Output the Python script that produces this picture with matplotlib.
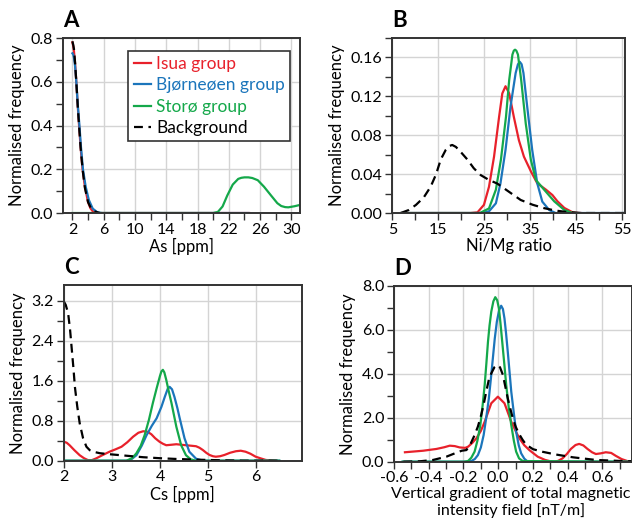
import matplotlib
matplotlib.use("Agg")
import matplotlib.pyplot as plt
from matplotlib.ticker import MultipleLocator

plt.rcParams['font.family'] = ['Lato', 'DejaVu Sans']
plt.rcParams['font.size'] = 11

RED = '#e8212b'
BLUE = '#1b75bb'
GREEN = '#14a84a'

series_names = ['Isua group', 'Bjørneøen group', 'Storø group', 'Background']

# ---- Panel A: As [ppm]
a_isua_x = [2, 2.1, 2.2, 2.35, 2.5, 2.7, 2.85, 3.05, 3.3, 3.6, 4.0, 4.3, 4.6, 5.0, 24.6]
a_isua_y = [0.78, 0.765, 0.74, 0.68, 0.6, 0.48, 0.4, 0.3, 0.2, 0.12, 0.05, 0.022, 0.008, 0.0, 0.0]
a_bjorn_x = [2, 2.1, 2.2, 2.35, 2.5, 2.7, 2.9, 3.1, 3.35, 3.7, 4.1, 4.6, 5.2, 5.8, 24.5]
a_bjorn_y = [0.73, 0.725, 0.71, 0.67, 0.6, 0.49, 0.4, 0.3, 0.2, 0.12, 0.06, 0.02, 0.003, 0.0, 0.0]
a_storo_x = [2, 20.0, 20.6, 21.2, 21.8, 22.5, 23.2, 23.6, 24.0, 24.5, 25.0, 25.7, 26.5, 27.4, 28.2, 28.7, 29.2, 29.6, 30.4, 31.1]
a_storo_y = [0, 0, 0.005, 0.03, 0.08, 0.13, 0.156, 0.161, 0.163, 0.163, 0.16, 0.15, 0.12, 0.08, 0.045, 0.032, 0.027, 0.026, 0.031, 0.037]
a_bg_x = [2, 2.1, 2.2, 2.35, 2.5, 2.7, 2.85, 3.05, 3.3, 3.6, 4.0, 4.4, 4.8, 5.5]
a_bg_y = [0.785, 0.77, 0.75, 0.685, 0.6, 0.48, 0.4, 0.3, 0.2, 0.115, 0.05, 0.02, 0.008, 0.0]

# ---- Panel B: Ni/Mg ratio
b_isua_x = [7, 22.0, 23.5, 24.9, 26.0, 27.1, 28.2, 28.9, 29.6, 30.4, 31.4, 32.5, 33.6, 35.1, 36.5,
            38.4, 39.8, 40.9, 42.4, 44.2, 45.5, 46]
b_isua_y = [0, 0, 0.0007, 0.0084, 0.027, 0.058, 0.099, 0.123, 0.1304, 0.123, 0.099, 0.075, 0.058, 0.043, 0.0306,
            0.024, 0.0185, 0.012, 0.0052, 0.0007, 0.0, 0.0]
b_bjorn_x = [7, 24.5, 26.0, 27.5, 28.5, 29.6, 30.7, 31.8, 32.3, 32.7, 33.1, 33.5, 34.3, 35.4, 36.5, 37.6, 39.1, 40.5, 56]
b_bjorn_y = [0, 0, 0.0017, 0.01, 0.0306, 0.065, 0.110, 0.144, 0.153, 0.1555, 0.153, 0.144, 0.110, 0.065, 0.0306,
             0.0117, 0.0031, 0.0, 0.0]
b_storo_x = [7, 24.0, 26.0, 27.5, 28.6, 29.7, 30.4, 31.1, 31.4, 31.67, 31.95, 32.3, 33.0, 34.0, 35.1, 36.2,
             38.0, 40.2, 42.4, 44.0, 45]
b_storo_y = [0, 0, 0.0047, 0.024, 0.055, 0.099, 0.137, 0.163, 0.167, 0.168, 0.167, 0.163, 0.137, 0.092, 0.055, 0.034,
             0.024, 0.012, 0.0031, 0.0003, 0.0]
b_bg_x = [6.8, 8.5, 10.1, 11.8, 13.3, 14.5, 15.5, 16.6, 17.4, 18.0, 18.8, 20.0, 21.3, 22.7, 24.2, 26.0, 27.8,
          30.3, 32.9, 35.5, 38.0, 40.5, 43.0, 46, 56]
b_bg_y = [0, 0.003, 0.0083, 0.016, 0.027, 0.04, 0.055, 0.065, 0.069, 0.070, 0.068, 0.062, 0.055, 0.046, 0.039, 0.034,
          0.0303, 0.022, 0.0134, 0.0085, 0.005, 0.0025, 0.001, 0.0, 0.0]

# ---- Panel C: Cs [ppm]
c_isua_x = [2.0, 2.06, 2.12, 2.22, 2.33, 2.42, 2.5, 2.58, 2.68, 2.8, 2.95, 3.08, 3.2, 3.32, 3.44, 3.55, 3.65,
            3.74, 3.82, 3.9, 3.99, 4.06, 4.13, 4.24, 4.34, 4.44, 4.54, 4.65, 4.75, 4.82, 4.89, 4.96, 5.03,
            5.1, 5.16, 5.25, 5.34, 5.46, 5.58, 5.68, 5.78, 5.88, 5.99, 6.1, 6.2, 6.4]
c_isua_y = [0.38, 0.36, 0.31, 0.21, 0.11, 0.05, 0.013, 0.01, 0.05, 0.11, 0.18, 0.23, 0.28, 0.37, 0.48, 0.56, 0.59,
            0.58, 0.53, 0.45, 0.38, 0.34, 0.31, 0.32, 0.33, 0.32, 0.31, 0.3, 0.29, 0.26, 0.215, 0.16, 0.115,
            0.09, 0.08, 0.09, 0.115, 0.16, 0.19, 0.2, 0.18, 0.14, 0.08, 0.045, 0.015, 0.0]
c_bjorn_x = [2.0, 3.33, 3.42, 3.51, 3.62, 3.72, 3.83, 3.93, 4.03, 4.1, 4.16, 4.2, 4.25, 4.3, 4.36, 4.41, 4.51,
             4.61, 4.75, 4.89, 6.48]
c_bjorn_y = [0, 0, 0.04, 0.11, 0.3, 0.51, 0.7, 0.85, 1.08, 1.28, 1.44, 1.48, 1.43, 1.28, 1.06, 0.85, 0.45,
             0.18, 0.04, 0.0, 0.0]
c_storo_x = [2.0, 3.3, 3.42, 3.51, 3.6, 3.68, 3.77, 3.85, 3.93, 4.0, 4.03, 4.06, 4.09, 4.13, 4.18, 4.24, 4.34,
             4.44, 4.54, 4.64, 4.75, 6.48]
c_storo_y = [0, 0, 0.05, 0.15, 0.3, 0.51, 0.82, 1.15, 1.45, 1.7, 1.79, 1.82, 1.77, 1.62, 1.4, 1.15, 0.68,
             0.31, 0.11, 0.027, 0.0, 0.0]
c_bg_x = [2.0, 2.04, 2.09, 2.13, 2.16, 2.2, 2.23, 2.28, 2.33, 2.4, 2.47, 2.54, 2.61, 2.75, 2.95, 3.3, 3.65,
          4.0, 4.34, 4.7, 5.03, 5.4, 5.72, 6.48]
c_bg_y = [3.19, 3.12, 2.95, 2.62, 2.29, 1.85, 1.48, 1.08, 0.75, 0.45, 0.28, 0.21, 0.18, 0.15, 0.13, 0.1, 0.07,
          0.05, 0.035, 0.023, 0.014, 0.006, 0.0, 0.0]

# ---- Panel D: vertical gradient [nT/m]
d_isua_x = [-0.537, -0.432, -0.356, -0.31, -0.279, -0.25, -0.222, -0.19, -0.174, -0.15, -0.126, -0.1, -0.078,
            -0.04, -0.002, 0.036, 0.075, 0.1, 0.122, 0.15, 0.179, 0.227, 0.27, 0.3, 0.323, 0.345, 0.37, 0.395,
            0.418, 0.445, 0.466, 0.49, 0.514, 0.54, 0.562, 0.59, 0.619, 0.65, 0.676, 0.71, 0.743, 0.77]
d_isua_y = [0.43, 0.50, 0.58, 0.66, 0.73, 0.71, 0.65, 0.63, 0.68, 0.85, 1.06, 1.4, 1.82,
            2.66, 2.96, 2.66, 1.82, 1.4, 1.06, 0.75, 0.53, 0.23, 0.08, 0.02, 0.0, 0.04, 0.15, 0.35,
            0.58, 0.76, 0.81, 0.74, 0.58, 0.43, 0.35, 0.38, 0.43, 0.4, 0.27, 0.12, 0.03, 0.0]
d_bjorn_x = [-0.55, -0.18, -0.155, -0.135, -0.117, -0.1, -0.084, -0.07, -0.054, -0.042, -0.031, -0.02, -0.008,
             0.005, 0.017, 0.027, 0.036, 0.045, 0.055, 0.065, 0.075, 0.09, 0.103, 0.118, 0.132, 0.15, 0.17, 0.204, 0.77]
d_bjorn_y = [0, 0, 0.03, 0.12, 0.30, 0.65, 1.21, 1.95, 2.88, 3.8, 4.7, 5.6, 6.37,
             6.9, 7.1, 6.95, 6.52, 5.85, 5.0, 4.1, 3.19, 2.2, 1.37, 0.75, 0.38, 0.14, 0.0, 0.0, 0.0]
d_storo_x = [-0.55, -0.2, -0.174, -0.155, -0.136, -0.12, -0.103, -0.09, -0.078, -0.068, -0.059, -0.05, -0.04,
             -0.028, -0.017, -0.006, 0.004, 0.013, 0.023, 0.035, 0.046, 0.06, 0.075, 0.09, 0.103, 0.12, 0.141, 0.77]
d_storo_y = [0, 0, 0.03, 0.18, 0.46, 0.95, 1.67, 2.55, 3.49, 4.5, 5.46, 6.2, 6.83,
             7.3, 7.49, 7.35, 6.98, 6.3, 5.46, 4.45, 3.49, 2.5, 1.67, 0.95, 0.46, 0.15, 0.03, 0.0]
d_bg_x = [-0.546, -0.45, -0.375, -0.298, -0.25, -0.21, -0.183, -0.16, -0.136, -0.117, -0.098, -0.084, -0.069,
          -0.055, -0.04, -0.022, -0.006, 0.01, 0.027, 0.04, 0.055, 0.07, 0.084, 0.1, 0.118, 0.14, 0.16,
          0.2, 0.256, 0.33, 0.43, 0.562, 0.714, 0.77]
d_bg_y = [0, 0.02, 0.08, 0.23, 0.38, 0.5, 0.53, 0.8, 1.21, 1.6, 2.13, 2.6, 3.19,
          3.7, 4.02, 4.3, 4.40, 4.3, 3.95, 3.45, 2.88, 2.4, 1.97, 1.6, 1.29, 1.0, 0.78,
          0.57, 0.45, 0.33, 0.2, 0.08, 0.03, 0.02]


def style_axes(ax, xmaj, xmin, ymaj, ymin, xlim, ylim, yfmt):
    ax.set_xlim(*xlim)
    ax.set_ylim(*ylim)
    ax.xaxis.set_major_locator(MultipleLocator(xmaj))
    ax.yaxis.set_major_locator(MultipleLocator(ymaj))
    if xmin:
        ax.xaxis.set_minor_locator(MultipleLocator(xmin))
    if ymin:
        ax.yaxis.set_minor_locator(MultipleLocator(ymin))
    ax.yaxis.set_major_formatter(plt.FormatStrFormatter(yfmt))
    ax.grid(True, which='major', color='#d4d4d4', linewidth=1.0)
    ax.set_axisbelow(True)
    ax.tick_params(which='both', direction='out', color='#333333', width=1.0, labelsize=11.5, pad=2)
    ax.tick_params(which='major', length=5)
    ax.tick_params(which='minor', length=5)
    for s in ax.spines.values():
        s.set_color('#333333')
        s.set_linewidth(1.4)
    ax.set_ylabel('Normalised frequency', fontsize=12)


def draw(ax, data):
    colors = [RED, BLUE, GREEN, 'black']
    for (x, y), c, name in zip(data, colors, series_names):
        ls = (0, (4, 2.5)) if c == 'black' else '-'
        ax.plot(x, y, color=c, linewidth=1.6, linestyle=ls, label=name, solid_joinstyle='round')


fig = plt.figure(figsize=(6.32, 5.23), dpi=100)

axA = fig.add_axes([0.0997, 0.5927, 0.375, 0.3346])
draw(axA, [(a_isua_x, a_isua_y), (a_bjorn_x, a_bjorn_y), (a_storo_x, a_storo_y), (a_bg_x, a_bg_y)])
style_axes(axA, 4, 2, 0.2, 0.1, (0.8, 31.1), (0, 0.8), '%.1f')
axA.set_xticks([2, 6, 10, 14, 18, 22, 26, 30])
axA.set_xlabel('As [ppm]', fontsize=12, labelpad=1)
leg = axA.legend(loc='upper right', bbox_to_anchor=(0.995, 0.975), frameon=True, fancybox=False,
                 edgecolor='#333333', fontsize=12.5, handlelength=1.0, handletextpad=0.3,
                 borderpad=0.3, labelspacing=0.3, framealpha=1)
leg.get_frame().set_linewidth(1.2)
for txt, c in zip(leg.get_texts(), [RED, BLUE, GREEN, 'black']):
    txt.set_color(c)

axB = fig.add_axes([0.621, 0.5927, 0.3687, 0.3346])
draw(axB, [(b_isua_x, b_isua_y), (b_bjorn_x, b_bjorn_y), (b_storo_x, b_storo_y), (b_bg_x, b_bg_y)])
style_axes(axB, 10, 5, 0.04, 0.02, (5, 55.7), (0, 0.18), '%.2f')
axB.set_xticks([5, 15, 25, 35, 45, 55])
axB.set_xlabel('Ni/Mg ratio', fontsize=12, labelpad=1)

axC = fig.add_axes([0.101, 0.1191, 0.3766, 0.336])
draw(axC, [(c_isua_x, c_isua_y), (c_bjorn_x, c_bjorn_y), (c_storo_x, c_storo_y), (c_bg_x, c_bg_y)])
style_axes(axC, 1, None, 0.8, 0.4, (2, 6.95), (0, 3.52), '%.1f')
axC.set_xlabel('Cs [ppm]', fontsize=12, labelpad=1)

axD = fig.add_axes([0.6234, 0.1172, 0.3766, 0.3360])
draw(axD, [(d_isua_x, d_isua_y), (d_bjorn_x, d_bjorn_y), (d_storo_x, d_storo_y), (d_bg_x, d_bg_y)])
style_axes(axD, 0.2, 0.1, 2.0, 1.0, (-0.6, 0.77), (0, 8.0), '%.1f')
axD.set_xticks([-0.6, -0.4, -0.2, 0.0, 0.2, 0.4, 0.6])
axD.set_xticklabels(['-0.6', '-0.4', '-0.2', '0.0', '0.2', '0.4', '0.6'])
axD.set_xlabel('Vertical gradient of total magnetic\nintensity field [nT/m]', fontsize=11.5,
               labelpad=1, x=0.49)

for ax, letter in zip([axA, axB, axC, axD], 'ABCD'):
    ax.text(0.0, 1.04, letter, transform=ax.transAxes, fontsize=16, fontweight='bold',
            ha='left', va='bottom')

fig.savefig('out.png', dpi=100)
